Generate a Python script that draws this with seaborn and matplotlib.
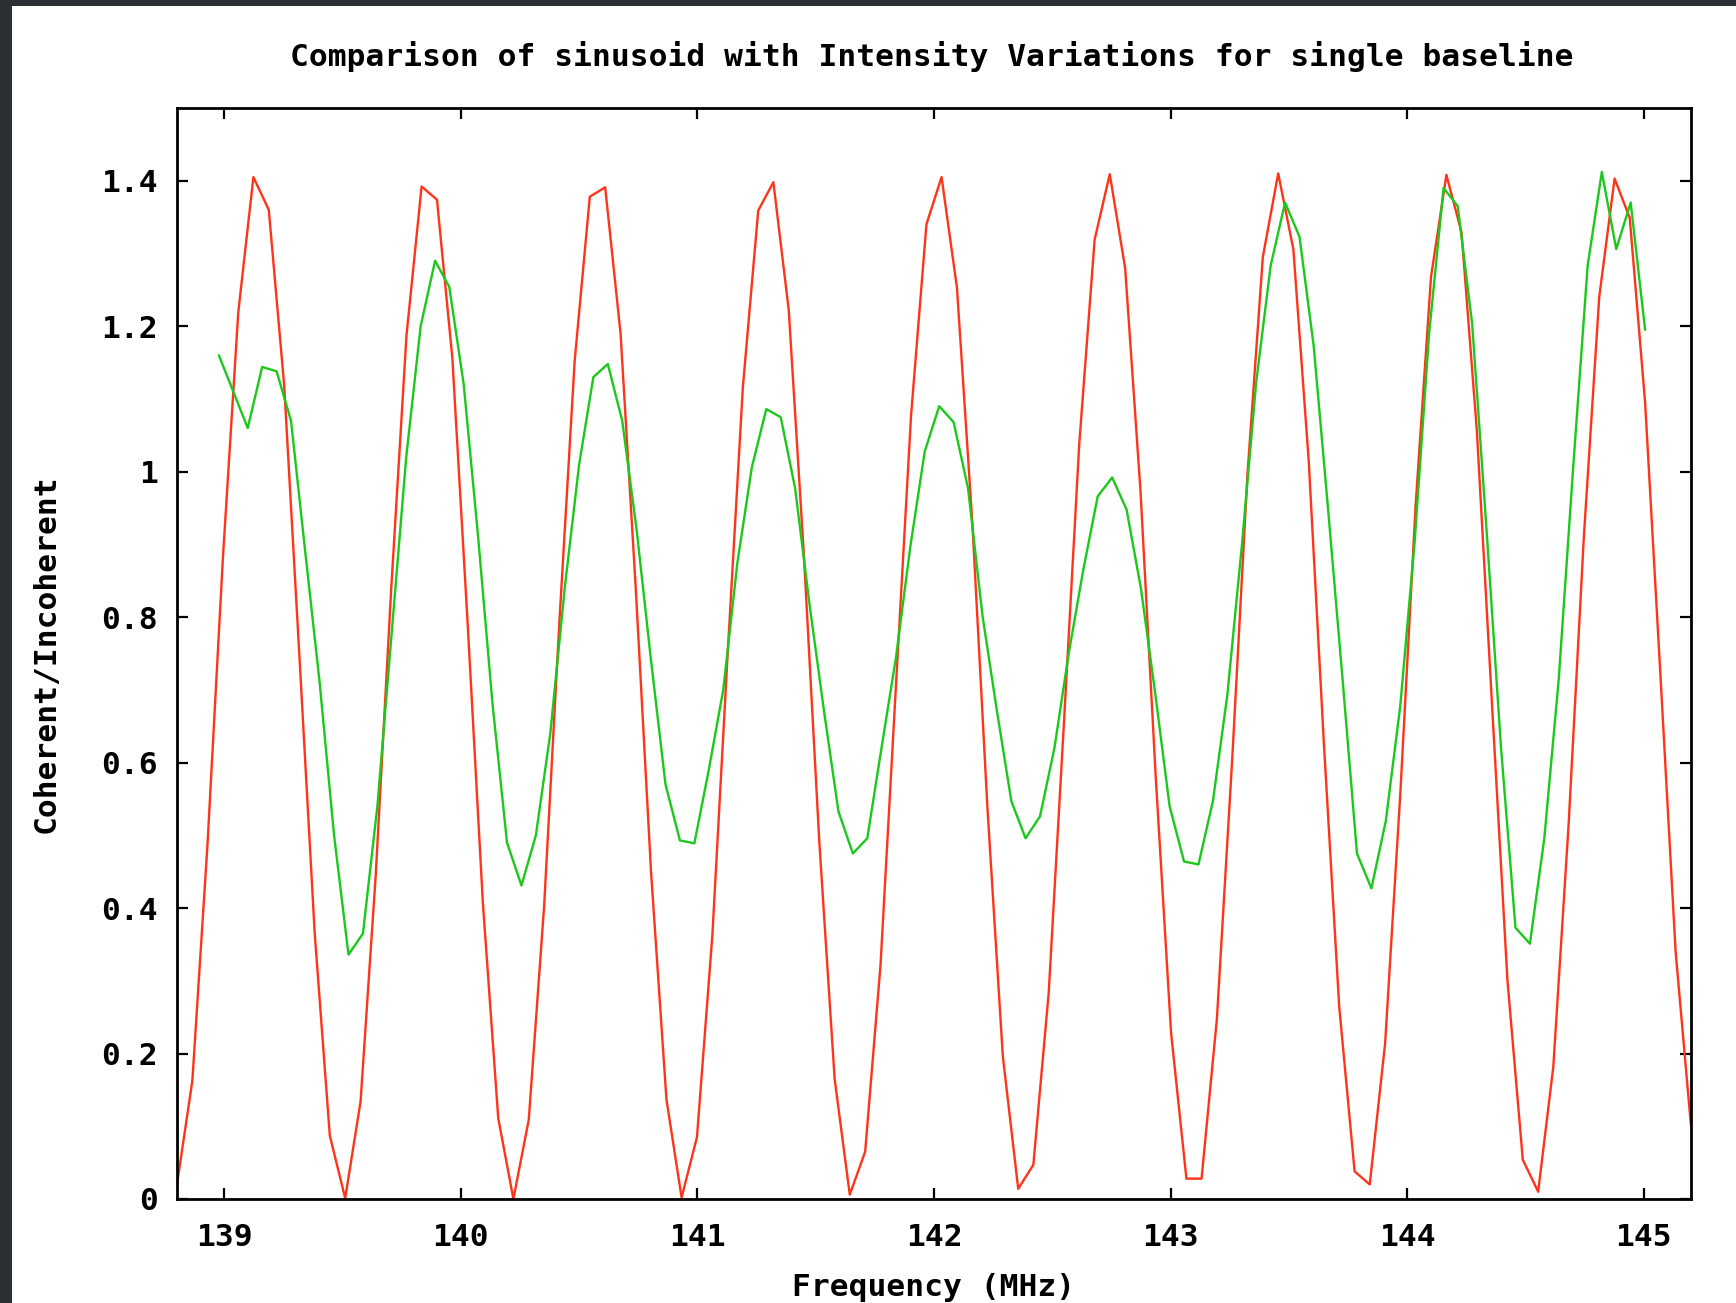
import matplotlib
matplotlib.use("Agg")
import matplotlib.pyplot as plt
from matplotlib.patches import Rectangle
from matplotlib.ticker import FixedLocator, FixedFormatter
import seaborn as sns
import pandas as pd

# ---------------- data ----------------
sin_freq = [
    138.800, 138.865, 138.929, 138.994, 139.059, 139.123, 139.188, 139.253, 139.317, 139.382,
    139.446, 139.511, 139.576, 139.640, 139.705, 139.770, 139.834, 139.899, 139.964, 140.028,
    140.093, 140.158, 140.222, 140.287, 140.352, 140.416, 140.481, 140.545, 140.610, 140.675,
    140.739, 140.804, 140.869, 140.933, 140.998, 141.063, 141.127, 141.192, 141.257, 141.321,
    141.386, 141.450, 141.515, 141.580, 141.644, 141.709, 141.774, 141.838, 141.903, 141.968,
    142.032, 142.097, 142.162, 142.226, 142.291, 142.356, 142.420, 142.485, 142.549, 142.614,
    142.679, 142.743, 142.808, 142.873, 142.937, 143.002, 143.067, 143.131, 143.196, 143.261,
    143.325, 143.390, 143.455, 143.519, 143.584, 143.648, 143.713, 143.778, 143.842, 143.907,
    143.972, 144.036, 144.101, 144.166, 144.230, 144.295, 144.360, 144.424, 144.489, 144.554,
    144.618, 144.683, 144.747, 144.812, 144.877, 144.941, 145.006, 145.071, 145.135, 145.200,
]
sin_value = [
    0.020, 0.163, 0.488, 0.881, 1.219, 1.405, 1.360, 1.119, 0.749, 0.366,
    0.087, 0.001, 0.134, 0.445, 0.836, 1.187, 1.392, 1.374, 1.156, 0.795,
    0.407, 0.111, 0.000, 0.109, 0.403, 0.791, 1.152, 1.378, 1.391, 1.190,
    0.841, 0.449, 0.137, 0.002, 0.085, 0.362, 0.745, 1.116, 1.359, 1.398,
    1.222, 0.885, 0.492, 0.165, 0.006, 0.065, 0.322, 0.699, 1.077, 1.340,
    1.405, 1.253, 0.930, 0.537, 0.196, 0.014, 0.047, 0.284, 0.653, 1.038,
    1.319, 1.409, 1.280, 0.973, 0.582, 0.229, 0.028, 0.028, 0.248, 0.607,
    0.996, 1.295, 1.410, 1.306, 1.015, 0.627, 0.264, 0.038, 0.020, 0.214,
    0.562, 0.954, 1.268, 1.408, 1.329, 1.055, 0.673, 0.301, 0.054, 0.010,
    0.182, 0.517, 0.910, 1.240, 1.403, 1.349, 1.095, 0.719, 0.340, 0.100,
]

data_freq = [
    138.977, 139.038, 139.099, 139.160, 139.221, 139.282, 139.342, 139.403, 139.464, 139.525,
    139.586, 139.647, 139.708, 139.769, 139.830, 139.891, 139.951, 140.012, 140.073, 140.134,
    140.195, 140.256, 140.317, 140.378, 140.439, 140.500, 140.560, 140.621, 140.682, 140.743,
    140.804, 140.865, 140.926, 140.987, 141.048, 141.109, 141.169, 141.230, 141.291, 141.352,
    141.413, 141.474, 141.535, 141.596, 141.657, 141.718, 141.778, 141.839, 141.900, 141.961,
    142.022, 142.083, 142.144, 142.205, 142.266, 142.327, 142.387, 142.448, 142.509, 142.570,
    142.631, 142.692, 142.753, 142.814, 142.875, 142.936, 142.996, 143.057, 143.118, 143.179,
    143.240, 143.301, 143.362, 143.423, 143.484, 143.545, 143.605, 143.666, 143.727, 143.788,
    143.849, 143.910, 143.971, 144.032, 144.093, 144.154, 144.214, 144.275, 144.336, 144.397,
    144.458, 144.519, 144.580, 144.641, 144.702, 144.763, 144.823, 144.884, 144.945, 145.006,
]
data_value = [
    1.160, 1.110, 1.060, 1.144, 1.138, 1.070, 0.890, 0.710, 0.500, 0.336,
    0.365, 0.540, 0.780, 1.020, 1.200, 1.290, 1.254, 1.120, 0.910, 0.680,
    0.490, 0.431, 0.500, 0.640, 0.840, 1.010, 1.130, 1.148, 1.070, 0.920,
    0.740, 0.570, 0.493, 0.489, 0.590, 0.700, 0.875, 1.006, 1.086, 1.075,
    0.977, 0.817, 0.671, 0.533, 0.475, 0.496, 0.620, 0.744, 0.897, 1.028,
    1.090, 1.068, 0.977, 0.802, 0.671, 0.547, 0.496, 0.526, 0.620, 0.751,
    0.865, 0.966, 0.992, 0.948, 0.839, 0.693, 0.540, 0.464, 0.460, 0.547,
    0.693, 0.897, 1.123, 1.283, 1.370, 1.323, 1.173, 0.948, 0.715, 0.475,
    0.427, 0.520, 0.678, 0.904, 1.190, 1.390, 1.365, 1.203, 0.919, 0.620,
    0.373, 0.351, 0.496, 0.715, 1.006, 1.283, 1.412, 1.306, 1.370, 1.195,
]

x_ticks = [139, 140, 141, 142, 143, 144, 145]
x_tick_labels = ["139", "140", "141", "142", "143", "144", "145"]
y_ticks = [0, 0.2, 0.4, 0.6, 0.8, 1.0, 1.2, 1.4]
y_tick_labels = ["0", "0.2", "0.4", "0.6", "0.8", "1", "1.2", "1.4"]

title_text = "Comparison of sinusoid with Intensity Variations for single baseline"
x_label = "Frequency (MHz)"
y_label = "Coherent/Incoherent"

# ---------------- styling ----------------
sns.set_theme(style="white")
plt.rcParams["font.family"] = ["DejaVu Sans Mono", "DejaVu Sans"]
plt.rcParams["font.weight"] = "bold"

W, H = 1736, 1303
fig = plt.figure(figsize=(W / 100, H / 100), dpi=100)
fig.patch.set_facecolor("#2c3034")
fig.add_artist(Rectangle((12 / W, 0), 1 - 12 / W, 1 - 6 / H,
                         transform=fig.transFigure, facecolor="white",
                         edgecolor="none", zorder=0))

ax_l, ax_r, ax_t, ax_b = 177, 1691, 108, 1199
ax = fig.add_axes([ax_l / W, (H - ax_b) / H, (ax_r - ax_l) / W, (ax_b - ax_t) / H])
ax.set_facecolor("white")

sin_df = pd.DataFrame({"freq": sin_freq, "value": sin_value})
data_df = pd.DataFrame({"freq": data_freq, "value": data_value})

red = "#ff3418"
green = "#1cc81c"
sns.lineplot(data=sin_df, x="freq", y="value", ax=ax, color=red, lw=1.7,
             sort=False, estimator=None, zorder=2)
sns.lineplot(data=data_df, x="freq", y="value", ax=ax, color=green, lw=1.7,
             sort=False, estimator=None, zorder=3)

ax.set_xlim(138.8, 145.2)
ax.set_ylim(0, 1.5)

ax.xaxis.set_major_locator(FixedLocator(x_ticks))
ax.xaxis.set_major_formatter(FixedFormatter(x_tick_labels))
ax.yaxis.set_major_locator(FixedLocator(y_ticks))
ax.yaxis.set_major_formatter(FixedFormatter(y_tick_labels))

fs = 22.5
ax.tick_params(axis="both", which="major", direction="in", length=8, width=1.6,
               color="black", labelcolor="black", labelsize=fs,
               top=True, right=True, bottom=True, left=True)
ax.tick_params(axis="x", pad=17)
ax.tick_params(axis="y", pad=14)
for lab in ax.get_xticklabels() + ax.get_yticklabels():
    lab.set_fontweight("bold")

for sp in ax.spines.values():
    sp.set_visible(True)
    sp.set_color("black")
    sp.set_linewidth(2.0)

ax.set_xlabel(x_label, fontsize=fs, fontweight="bold", color="black", va="center")
ax.xaxis.set_label_coords(0.5, (ax_b - 1288) / (ax_b - ax_t))
ax.set_ylabel(y_label, fontsize=fs, fontweight="bold", color="black", va="center")
ax.yaxis.set_label_coords((46.5 - ax_l) / (ax_r - ax_l), 0.5)

fig.text(932 / W, 1 - 56 / H, title_text, ha="center", va="center",
         fontsize=fs, fontweight="bold", color="black")

fig.savefig("out.png", dpi=100, facecolor=fig.get_facecolor())
